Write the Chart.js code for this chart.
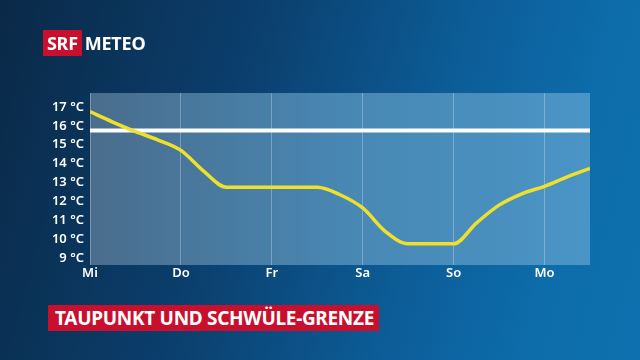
<!DOCTYPE html>
<html>
<head>
<meta charset="utf-8">
<script src="https://cdn.jsdelivr.net/npm/chart.js@4"></script>
<style>
  html, body { margin: 0; padding: 0; }
  body {
    width: 640px; height: 360px; overflow: hidden; position: relative;
    background: linear-gradient(105deg, #0a2947 0%, #0b3e6c 35%, #0c5d98 65%, #0d6dab 85%, #0e70ae 100%);
    font-family: "Noto Sans", "Open Sans", sans-serif;
  }
  #wrap { position: absolute; left: 0; top: 0; width: 640px; height: 360px; }
  .logo { position: absolute; left: 43px; top: 30px; height: 26px; display: flex; align-items: center; }
  .logo .srf { background: #c8102e; color: #fff; font-weight: 700; font-size: 18px; height: 26px; line-height: 26px; padding: 0 4px; letter-spacing: -0.3px; }
  .logo .meteo { color: #fff; font-weight: 700; font-size: 18px; margin-left: 3px; letter-spacing: -0.2px; }
  .title { position: absolute; left: 48px; top: 305px; height: 26px; line-height: 26px; background: #c8102e; color: #fff;
    font-weight: 700; font-size: 19px; padding: 0 5px 0 7px; letter-spacing: -0.3px; }
</style>
</head>
<body>
<div id="wrap"><canvas id="chart"></canvas></div>
<div class="logo"><span class="srf">SRF</span><span class="meteo">METEO</span></div>
<div class="title">TAUPUNKT UND SCHWÜLE-GRENZE</div>
<script>
// Tage (Tickbeschriftung der x-Achse), Position in Tagen ab Mittwoch
const days = ['Mi', 'Do', 'Fr', 'Sa', 'So', 'Mo'];
// Taupunkt alle 6 Stunden
const dewHours = [0, 6, 12, 18, 24, 30, 36, 42, 48, 54, 60, 66, 72, 78, 84, 90, 96, 102, 108, 114, 120, 126, 132];
const dewPoint = [16.75, 16.2, 15.7, 15.25, 14.7, 13.6, 12.75, 12.75, 12.75, 12.75, 12.75, 12.35, 11.65, 10.4, 9.75, 9.75, 9.75, 10.85, 11.8, 12.4, 12.8, 13.3, 13.75];
// Schwüle-Grenze
const sultryLimit = 15.75;
// Tickwerte der y-Achse
const tempTicks = [9, 10, 11, 12, 13, 14, 15, 16, 17];

const plotBg = {
  id: 'plotBg',
  beforeDraw(chart) {
    const { ctx, chartArea: a } = chart;
    const g = ctx.createLinearGradient(a.left, 0, a.right, 0);
    g.addColorStop(0, '#4a6d8c');
    g.addColorStop(0.5, '#4887b3');
    g.addColorStop(1, '#4a95c6');
    ctx.save();
    ctx.fillStyle = g;
    ctx.fillRect(a.left, a.top, a.right - a.left, a.bottom - a.top);
    ctx.restore();
  }
};

const ctx = document.getElementById('chart').getContext('2d');
new Chart(ctx, {
  type: 'line',
  data: {
    datasets: [
      {
        label: 'Schwüle-Grenze',
        data: [{ x: 0, y: sultryLimit }, { x: 5.5, y: sultryLimit }],
        borderColor: '#ffffff',
        borderWidth: 4,
        pointRadius: 0,
        order: 2
      },
      {
        label: 'Taupunkt',
        data: dewHours.map((h, i) => ({ x: h / 24, y: dewPoint[i] })),
        borderColor: '#efe12b',
        borderWidth: 3.5,
        pointRadius: 0,
        cubicInterpolationMode: 'monotone',
        order: 1
      }
    ]
  },
  options: {
    responsive: true,
    maintainAspectRatio: false,
    animation: false,
    layout: { padding: { top: 93, right: 50, left: 0, bottom: 0 } },
    plugins: { legend: { display: false }, tooltip: { enabled: false } },
    scales: {
      x: {
        type: 'linear',
        min: 0,
        max: 5.5,
        afterBuildTicks: s => { s.ticks = days.map((d, i) => ({ value: i })); },
        afterFit: s => { s.height = 95; },
        grid: { color: 'rgba(255,255,255,0.28)', lineWidth: 1, drawTicks: false },
        border: { display: false },
        ticks: {
          callback: v => days[v],
          color: '#ffffff',
          padding: 0,
          maxRotation: 0,
          font: { family: '"Noto Sans"', size: 13, weight: 600 }
        }
      },
      y: {
        min: 8.63,
        max: 17.74,
        afterBuildTicks: s => { s.ticks = tempTicks.map(v => ({ value: v })); },
        afterFit: s => { s.width = 90; },
        grid: { display: false, drawTicks: false },
        border: { display: false },
        ticks: {
          callback: v => v + ' °C',
          color: '#ffffff',
          padding: 6,
          font: { family: '"Noto Sans"', size: 13, weight: 600 }
        }
      }
    }
  },
  plugins: [plotBg]
});
</script>
</body>
</html>
